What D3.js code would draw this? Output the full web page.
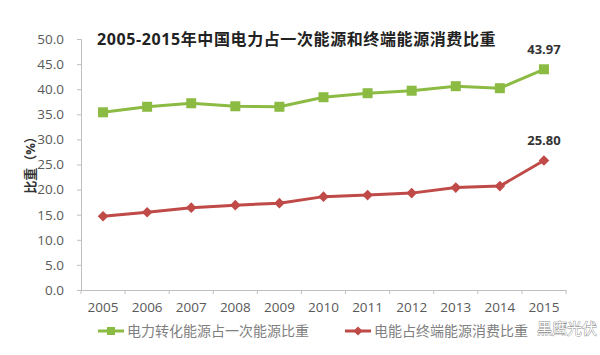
<!DOCTYPE html>
<html>
<head>
<meta charset="utf-8">
<script src="https://cdn.jsdelivr.net/npm/d3@7"></script>
<style>
  html, body { margin: 0; padding: 0; background: #ffffff; }
  svg { display: block; }
</style>
</head>
<body>
<div id="chart"></div>
<script>
const years = ["2005","2006","2007","2008","2009","2010","2011","2012","2013","2014","2015"];
const primaryShare = [35.4, 36.5, 37.2, 36.6, 36.5, 38.4, 39.2, 39.7, 40.6, 40.2, 43.97];
const finalShare   = [14.7, 15.5, 16.4, 16.9, 17.3, 18.6, 18.9, 19.3, 20.4, 20.7, 25.80];
const yTicks = [0, 5, 10, 15, 20, 25, 30, 35, 40, 45, 50];
const titleText = "2005-2015年中国电力占一次能源和终端能源消费比重";
const yLabel = "比重（%）";
const seriesNames = ["电力转化能源占一次能源比重", "电能占终端能源消费比重"];
const endLabels = ["43.97", "25.80"];

const W = 600, H = 355;
const margin = { left: 81, right: 34, top: 39, bottom: 65 };
const green = "#8cbb43", red = "#bf4a48";
const axisColor = "#bfbfbf", textColor = "#595959";
const font = "'Open Sans', 'Noto Sans CJK SC', sans-serif";

const svg = d3.select("#chart").append("svg").attr("width", W).attr("height", H);

const x = d3.scaleBand().domain(years).range([margin.left, W - margin.right]);
const y = d3.scaleLinear().domain([0, 50]).range([H - margin.bottom, margin.top]);

// Y axis
const yAxis = svg.append("g").attr("transform", `translate(${margin.left},0)`)
  .call(d3.axisLeft(y).tickValues(yTicks).tickFormat(d3.format(".1f")).tickSize(4).tickPadding(13));
yAxis.select(".domain").attr("stroke", axisColor);
yAxis.selectAll(".tick line").attr("stroke", axisColor);
yAxis.selectAll("text").attr("fill", textColor).style("font-family", font).style("font-size", "13.5px");

// X axis
const xAxis = svg.append("g").attr("transform", `translate(0,${H - margin.bottom})`)
  .call(d3.axisBottom(x).tickSize(0).tickPadding(12));
xAxis.select(".domain").attr("stroke", axisColor);
xAxis.selectAll("text").attr("fill", textColor).style("font-family", font).style("font-size", "13.5px");
// boundary ticks
const bounds = years.map(d => x(d)).concat([x(years[years.length-1]) + x.bandwidth()]);
xAxis.selectAll(".bt").data(bounds).enter().append("line")
  .attr("x1", d => d).attr("x2", d => d).attr("y1", 0).attr("y2", 4).attr("stroke", axisColor);

const cx = d => x(d) + x.bandwidth() / 2;

function marker(sel, isSquare, s) {
  return sel.append("rect").attr("x", -s / 2).attr("y", -s / 2).attr("width", s).attr("height", s);
}

function drawSeries(vals, color, isSquare) {
  const line = d3.line().x((v, i) => cx(years[i])).y(v => y(v));
  svg.append("path").datum(vals).attr("d", line).attr("fill", "none")
    .attr("stroke", color).attr("stroke-width", 3).attr("stroke-linejoin", "round");
  const g = svg.selectAll(null).data(vals).enter().append("g")
    .attr("transform", (v, i) => `translate(${cx(years[i])},${y(v)})` + (isSquare ? "" : " rotate(45)"));
  marker(g, isSquare, isSquare ? 10 : 7.5).attr("fill", color);
}
drawSeries(primaryShare, green, true);
drawSeries(finalShare, red, false);

// End labels
const last = years.length - 1;
[[primaryShare, endLabels[0]], [finalShare, endLabels[1]]].forEach(([vals, lab]) => {
  svg.append("text").attr("x", cx(years[last])).attr("y", y(vals[last]) - 15)
    .attr("text-anchor", "middle").attr("fill", "#333")
    .style("font-family", font).style("font-size", "13px").style("font-weight", "bold").text(lab);
});

// Title
svg.append("text").attr("x", 97).attr("y", 45).attr("fill", "#222")
  .style("font-family", font).style("font-size", "16px").style("font-weight", "bold")
  .style("letter-spacing", "0.6px").text(titleText);

// Y label
svg.append("text").attr("transform", "translate(35,162) rotate(-90)")
  .attr("text-anchor", "middle").attr("fill", "#333")
  .style("font-family", font).style("font-size", "13px").style("font-weight", "bold").text(yLabel);

// Legend
const legendFont = "'Noto Sans CJK SC', sans-serif";
const leg = [
  { x: 98, color: green, square: true, name: seriesNames[0] },
  { x: 345, color: red, square: false, name: seriesNames[1] }
];
leg.forEach(l => {
  const g = svg.append("g").attr("transform", `translate(${l.x},331)`);
  g.append("line").attr("x1", 0).attr("x2", 26).attr("stroke", l.color).attr("stroke-width", 3);
  const m = g.append("g").attr("transform", "translate(13,0)" + (l.square ? "" : " rotate(45)"));
  marker(m, l.square, l.square ? 8 : 6.5).attr("fill", l.color);
  g.append("text").attr("x", 29).attr("y", 5).attr("fill", "#7f7f7f")
    .style("font-family", legendFont).style("font-size", "14px").text(l.name);
});

// Watermark
svg.append("text").attr("x", 537).attr("y", 334).attr("fill", "#ffffff")
  .attr("stroke", "#8a8a8a").attr("stroke-width", 0.8).attr("paint-order", "stroke")
  .style("font-family", legendFont).style("font-size", "15px").text("黑鹰光伏");
</script>
</body>
</html>
